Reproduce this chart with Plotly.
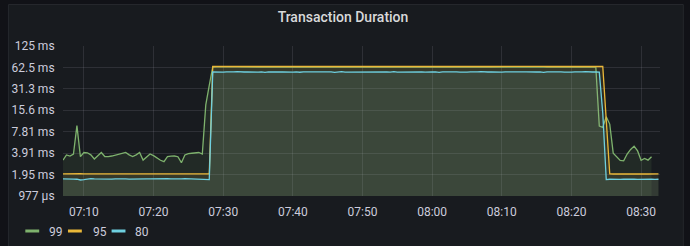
import pandas as pd
import plotly.graph_objects as go

# ---- data ----
times = pd.date_range("2020-01-01 07:07:00", periods=172, freq="30s")

p99 = [3.12, 3.68, 3.56, 3.80, 9.5, 3.48, 3.99, 3.95, 3.70, 3.23, 3.60, 3.99, 3.50, 3.48,
       3.56, 3.65, 3.78, 3.85, 3.99, 3.70, 3.50, 3.70, 3.99, 3.12, 3.48, 3.80, 3.60, 3.31,
       3.10, 2.96, 3.48, 3.55, 3.56, 3.48, 2.87, 3.68, 3.85, 3.89, 3.95, 3.99, 3.80,
       18.6, 35.0,
       63.4, 63.6, 63.3, 63.5, 63.7, 63.4, 63.6, 63.5, 63.3, 63.6, 63.4, 63.7, 63.5, 63.4,
       63.6, 63.3, 63.5, 63.6, 63.4, 63.7, 63.5, 63.3, 63.6, 63.4, 63.5, 63.6, 63.4, 63.3,
       63.7, 63.5, 63.4, 63.6, 63.3, 63.5, 63.6, 63.4, 63.7, 63.5, 63.3, 63.6, 63.4, 63.5,
       63.6, 63.4, 63.3, 63.7, 63.5, 63.4, 63.6, 63.3, 63.5, 63.6, 63.4, 63.7, 63.5, 63.3,
       63.6, 63.4, 63.5, 63.6, 63.4, 63.3, 63.7, 63.5, 63.4, 63.6, 63.3, 63.5, 63.6, 63.4,
       63.7, 63.5, 63.3, 63.6, 63.4, 63.5, 63.6, 63.4, 63.3, 63.7, 63.5, 63.4, 63.6, 63.3,
       63.5, 63.6, 63.4, 63.7, 63.5, 63.3, 63.6, 63.4, 63.5, 63.6, 63.4, 63.3, 63.7, 63.5,
       63.4, 63.6, 63.3, 63.5, 63.6, 63.4, 63.7, 63.5, 63.3, 63.6, 63.4, 63.5, 63.4,
       9.4,
       9.0, 12.7, 10.0, 3.9, 3.5, 3.08, 3.04, 3.8, 4.4, 4.9, 4.2, 3.1, 3.3, 3.12, 3.48]

p95 = [2.00, 2.01, 2.00, 1.99, 2.00, 2.01, 2.00, 2.00, 2.01, 2.00, 1.99, 2.00, 2.01, 2.00,
       2.00, 2.01, 2.00, 1.99, 2.00, 2.01, 2.00, 2.00, 2.01, 2.00, 1.99, 2.00, 2.01, 2.00,
       2.00, 2.01, 2.00, 1.99, 2.00, 2.01, 2.00, 2.00, 2.01, 2.00, 1.99, 2.00, 2.01, 2.00,
       2.00,
       64.4, 64.5, 64.4, 64.6, 64.5, 64.4, 64.5, 64.6, 64.4, 64.5, 64.4, 64.6, 64.5, 64.4,
       64.5, 64.6, 64.4, 64.5, 64.4, 64.6, 64.5, 64.4, 64.5, 64.6, 64.4, 64.5, 64.4, 64.6,
       64.5, 64.4, 64.5, 64.6, 64.4, 64.5, 64.4, 64.6, 64.5, 64.4, 64.5, 64.6, 64.4, 64.5,
       64.4, 64.6, 64.5, 64.4, 64.5, 64.6, 64.4, 64.5, 64.4, 64.6, 64.5, 64.4, 64.5, 64.6,
       64.4, 64.5, 64.4, 64.6, 64.5, 64.4, 64.5, 64.6, 64.4, 64.5, 64.4, 64.6, 64.5, 64.4,
       64.5, 64.6, 64.4, 64.5, 64.4, 64.6, 64.5, 64.4, 64.5, 64.6, 64.4, 64.5, 64.4, 64.6,
       64.5, 64.4, 64.5, 64.6, 64.4, 64.5, 64.4, 64.6, 64.5, 64.4, 64.5, 64.6, 64.4, 64.5,
       64.4, 64.6, 64.5, 64.4, 64.5, 64.6, 64.4, 64.5, 64.4, 64.6, 64.5, 64.4, 64.5, 64.6,
       64.5,
       11.4,
       2.00, 1.99, 2.00, 2.01, 2.00, 2.00, 1.99, 2.00, 2.01, 2.00, 2.00, 1.99, 2.00, 2.01, 2.00]

p80 = [1.70, 1.71, 1.70, 1.69, 1.68, 1.64, 1.66, 1.70, 1.71, 1.70, 1.69, 1.70, 1.71, 1.70,
       1.69, 1.70, 1.71, 1.70, 1.70, 1.69, 1.70, 1.71, 1.70, 1.69, 1.70, 1.70, 1.71, 1.70,
       1.69, 1.70, 1.71, 1.70, 1.69, 1.70, 1.70, 1.71, 1.70, 1.69, 1.70, 1.71, 1.70, 1.69,
       1.66,
       54.1, 53.6, 54.3, 53.8, 54.0, 53.5, 54.2, 54.4, 53.7, 53.9, 54.1, 53.6, 54.3, 53.8,
       54.0, 53.4, 54.2, 54.5, 53.7, 53.9, 54.0, 53.6, 54.4, 53.8, 54.1, 53.5, 54.2, 54.3,
       53.7, 54.0, 54.1, 53.6, 54.3, 53.9, 54.0, 53.4, 54.2, 54.4, 53.8, 53.9, 54.1, 53.7,
       54.3, 53.8, 54.0, 53.5, 54.2, 54.5, 53.7, 53.9, 54.1, 53.6, 54.4, 53.8, 54.0, 53.5,
       54.2, 54.3, 53.7, 54.0, 54.1, 53.6, 54.3, 53.9, 54.0, 53.4, 54.2, 54.4, 53.8, 53.9,
       54.1, 53.7, 54.3, 53.8, 54.0, 53.5, 54.2, 54.5, 53.7, 53.9, 54.1, 53.6, 54.4, 53.8,
       54.0, 53.5, 54.2, 54.3, 53.7, 54.0, 54.1, 53.6, 54.3, 53.9, 54.0, 53.4, 54.2, 54.4,
       53.8, 53.9, 54.1, 53.7, 54.3, 53.8, 54.0, 53.5, 54.2, 54.5, 53.7, 53.9, 54.1, 53.6,
       14.3,
       1.66, 1.68, 1.69, 1.68, 1.67, 1.68, 1.69, 1.68, 1.68, 1.67, 1.68, 1.69, 1.68, 1.68,
       1.67, 1.68]

series_names = ["99", "95", "80"]
series_values = [p99, p95, p80]
series_colors = ["#7EB26D", "#EAB839", "#6ED0E0"]
fill_colors = ["rgba(126,178,109,0.10)", "rgba(234,184,57,0.10)", "rgba(110,208,224,0.10)"]

y_tickvals = [0.9765625, 1.953125, 3.90625, 7.8125, 15.625, 31.25, 62.5, 125]
y_ticktext = ["977 µs", "1.95 ms", "3.91 ms", "7.81 ms", "15.6 ms", "31.3 ms", "62.5 ms", "125 ms"]

# ---- layout geometry (pixels) ----
W, H = 690, 246
L, R, T, B = 58, 660, 46, 196
pw, ph = R - L, B - T


def px(x):
    return (x - L) / pw


def py(y):
    return (B - y) / ph


fig = go.Figure()
for name, vals, col, fc in zip(series_names, series_values, series_colors, fill_colors):
    fig.add_trace(go.Scatter(
        x=times, y=vals, name=name, mode="lines",
        line=dict(color=col, width=1.3),
        fill="tozeroy", fillcolor=fc, showlegend=False,
    ))

text_col = "#ccccdc"
grid_col = "rgba(204,204,220,0.12)"

shapes = [
    dict(type="rect", xref="paper", yref="paper",
         x0=px(3), x1=px(683.5), y0=py(250), y1=py(4.5),
         fillcolor="#181b1f", line=dict(color="#25272c", width=1), layer="below"),
]
annotations = []
# custom legend
leg = [(20, 34, 42, "99"), (63, 77, 86, "95"), (107, 121, 129, "80")]
for (x0, x1, tx, label), col in zip(leg, series_colors):
    shapes.append(dict(type="rect", xref="paper", yref="paper",
                       x0=px(x0), x1=px(x1), y0=py(232.5), y1=py(229.5),
                       fillcolor=col, line=dict(width=0)))
    annotations.append(dict(xref="paper", yref="paper", x=px(tx), y=py(231.5),
                            text=label, showarrow=False, xanchor="left", yanchor="middle",
                            font=dict(color=text_col, size=12, family="Roboto")))

fig.update_layout(
    width=W, height=H,
    margin=dict(l=L, r=W - R, t=T, b=H - B, pad=0),
    paper_bgcolor="#111217",
    plot_bgcolor="rgba(0,0,0,0)",
    font=dict(family="Roboto", color=text_col, size=12),
    title=dict(text="Transaction Duration", x=343 / W, xref="container", xanchor="center",
               y=1 - 17 / H, yref="container", yanchor="middle",
               font=dict(size=14, color="#d8d9da", family="Roboto", weight=500)),
    shapes=shapes,
    annotations=annotations,
    showlegend=False,
)
fig.update_xaxes(
    type="date", range=["2020-01-01 07:07:00", "2020-01-01 08:32:43"],
    tickformat="%H:%M", dtick=600000, tick0="2020-01-01 07:10:00",
    showgrid=True, gridcolor=grid_col, gridwidth=1, zeroline=False, showline=False,
    ticks="outside", ticklen=5, tickcolor="rgba(0,0,0,0)",
    tickfont=dict(size=12, color=text_col),
)
fig.update_yaxes(
    type="log", range=[-0.0103, 2.09691],
    tickvals=y_tickvals, ticktext=y_ticktext,
    showgrid=True, gridcolor=grid_col, gridwidth=1, zeroline=False, showline=False,
    ticks="outside", ticklen=5, tickcolor="rgba(0,0,0,0)",
    tickfont=dict(size=12, color=text_col),
)

fig.write_html("out.html")
